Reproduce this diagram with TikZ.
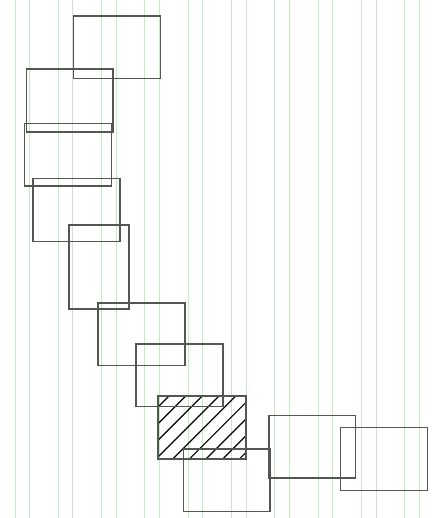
\documentclass[tikz,border=0pt]{standalone}
\usetikzlibrary{calc}
\definecolor{gridgreen}{RGB}{196,234,196}
\definecolor{boxgray}{RGB}{85,85,85}
\begin{document}
\begin{tikzpicture}[x=1pt,y=-1pt,
  gline/.style={draw=gridgreen,line width=1pt},
  box/.style={draw=boxgray,line width=1.4pt,inner sep=0pt,outer sep=0pt,
    minimum width=86.7pt,minimum height=62.7pt},
  hatchline/.style={draw=black,line width=1.2pt}]
\useasboundingbox (0,0) rectangle (445,518);
% grid
\foreach \k in {0,...,9}{
  \draw[gline] ({15+43.33*\k},0) -- ({15+43.33*\k},518);
  \draw[gline] ({29.4+43.33*\k},0) -- ({29.4+43.33*\k},518);
}
% hatching of r8
\begin{scope}
  \clip (158,396) rectangle (246,459);
  \foreach \k in {0,...,9}{
    \draw[hatchline] ({565+16.67*\k-396},396) -- ({565+16.67*\k-459},459);
  }
\end{scope}
% boxes
\node[box] (r1) at (117,47.2) {};
\node[box] (r2) at (69.8,100.5) {};
\node[box] (r3) at (68,154.8) {};
\node[box] (r4) at (76.5,210) {};
\node[box,minimum width=60pt,minimum height=84pt] (r5) at (99,267) {};
\node[box] (r6) at (141.5,334.3) {};
\node[box] (r7) at (179.5,375.3) {};
\node[box,minimum width=88pt,minimum height=63pt] (r8) at (202,427.5) {};
\node[box] (r9) at (226.8,480.3) {};
\node[box] (r10) at (312.2,446.7) {};
\node[box] (r11) at (384,459) {};
\end{tikzpicture}
\end{document}
